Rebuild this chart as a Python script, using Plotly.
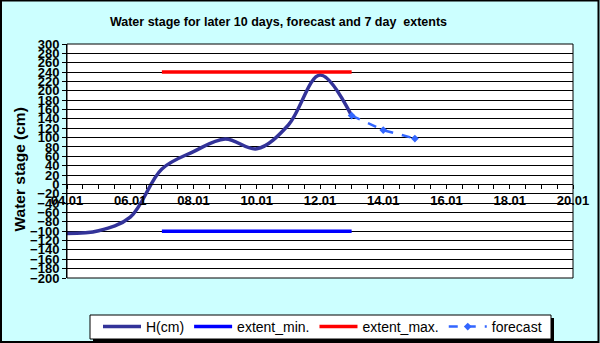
import plotly.graph_objects as go

# ---- data ----
h_dates = ["2012-01-04", "2012-01-05", "2012-01-06", "2012-01-07", "2012-01-08",
           "2012-01-09", "2012-01-10", "2012-01-11", "2012-01-12", "2012-01-13"]
h_values = [-105, -99, -70, 33, 70, 97, 76, 127, 234, 147]

extent_dates = ["2012-01-07", "2012-01-13"]
extent_min = [-100, -100]
extent_max = [240, 240]

forecast_dates = ["2012-01-13", "2012-01-14", "2012-01-15"]
forecast_values = [147, 116, 98]

title_text = "Water stage for later 10 days, forecast and 7 day  extents"
y_title = "Water stage (cm)"

W, H = 600, 343
ml, mr, mt, mb = 67, 27, 44, 65
pw, ph = W - ml - mr, H - mt - mb

fig = go.Figure()
fig.add_trace(go.Scatter(x=h_dates, y=h_values, name="H(cm)", mode="lines",
                         line=dict(color="#333399", width=3.5, shape="spline", smoothing=1.0)))
fig.add_trace(go.Scatter(x=extent_dates, y=extent_min, name="extent_min.", mode="lines",
                         line=dict(color="#0000FF", width=3.5)))
fig.add_trace(go.Scatter(x=extent_dates, y=extent_max, name="extent_max.", mode="lines",
                         line=dict(color="#FF0000", width=3.5)))
fig.add_trace(go.Scatter(x=forecast_dates, y=forecast_values, name="forecast", mode="lines+markers",
                         line=dict(color="#3366FF", width=2.5, dash="dash"),
                         marker=dict(symbol="diamond", size=6, color="#3366FF")))

def px_x(p):
    return (p - ml) / pw

def px_y(p):
    return (H - mb - p) / ph

shapes = [
    # outer figure border
    dict(type="rect", xref="paper", yref="paper",
         x0=px_x(1), x1=px_x(598.5), y0=px_y(342), y1=px_y(0.5),
         line=dict(color="black", width=2), layer="above"),
    # plot area border
    dict(type="rect", xref="paper", yref="paper", x0=0, x1=1, y0=0, y1=1,
         line=dict(color="black", width=1), layer="above"),
    # legend shadow
    dict(type="rect", xref="paper", yref="paper",
         x0=px_x(93), x1=px_x(554), y0=px_y(342), y1=px_y(318),
         line=dict(width=0), fillcolor="black", layer="above"),
    # legend box
    dict(type="rect", xref="paper", yref="paper",
         x0=px_x(90), x1=px_x(551), y0=px_y(339), y1=px_y(315),
         line=dict(color="black", width=1), fillcolor="white", layer="above"),
]

fig.update_layout(
    width=W, height=H,
    margin=dict(l=ml, r=mr, t=mt, b=mb, autoexpand=False),
    paper_bgcolor="#CCFFFF",
    plot_bgcolor="white",
    font=dict(family="Arial, Liberation Sans, sans-serif", color="black"),
    title=dict(text=title_text, x=278.5 / W, xref="container", xanchor="center",
               y=1 - 22 / H, yref="container", yanchor="middle",
               font=dict(size=12.5, color="black", family="Arial, Liberation Sans, sans-serif", weight="bold")),
    showlegend=True,
    legend=dict(orientation="h", x=px_x(98), y=px_y(327), xanchor="left", yanchor="middle",
                bgcolor="rgba(0,0,0,0)", borderwidth=0,
                font=dict(size=14, color="black"), itemwidth=38),
    xaxis=dict(type="date", range=["2012-01-04", "2012-01-20"],
               anchor="free", position=0.4, automargin=False,
               tick0="2012-01-04", dtick=2 * 86400000, tickformat="%d.%m",
               ticks="outside", ticklen=4, tickcolor="black", tickwidth=1,
               minor=dict(dtick=43200000, tick0="2012-01-04", ticks="outside", ticklen=4,
                          tickcolor="black", showgrid=False),
               showgrid=False, showline=True, linecolor="black", linewidth=1,
               tickfont=dict(size=13, weight="bold", color="black"), zeroline=False),
    yaxis=dict(range=[-200, 300], dtick=20, tick0=0, automargin=False,
               showgrid=True, gridcolor="black", gridwidth=1,
               zeroline=True, zerolinecolor="black", zerolinewidth=1,
               ticks="outside", ticklen=4, tickcolor="black",
               showline=True, linecolor="black",
               tickfont=dict(size=13, weight="bold", color="black")),
    annotations=[dict(text=y_title, xref="paper", yref="paper",
                      x=px_x(18.5), y=px_y(170), xanchor="center", yanchor="middle",
                      textangle=-90, showarrow=False,
                      font=dict(size=15.5, weight="bold", color="black"))],
    shapes=shapes,
)

fig.write_html("out.html", config={"displayModeBar": False},
               post_script="document.body.style.margin='0';document.body.style.overflow='hidden';")
